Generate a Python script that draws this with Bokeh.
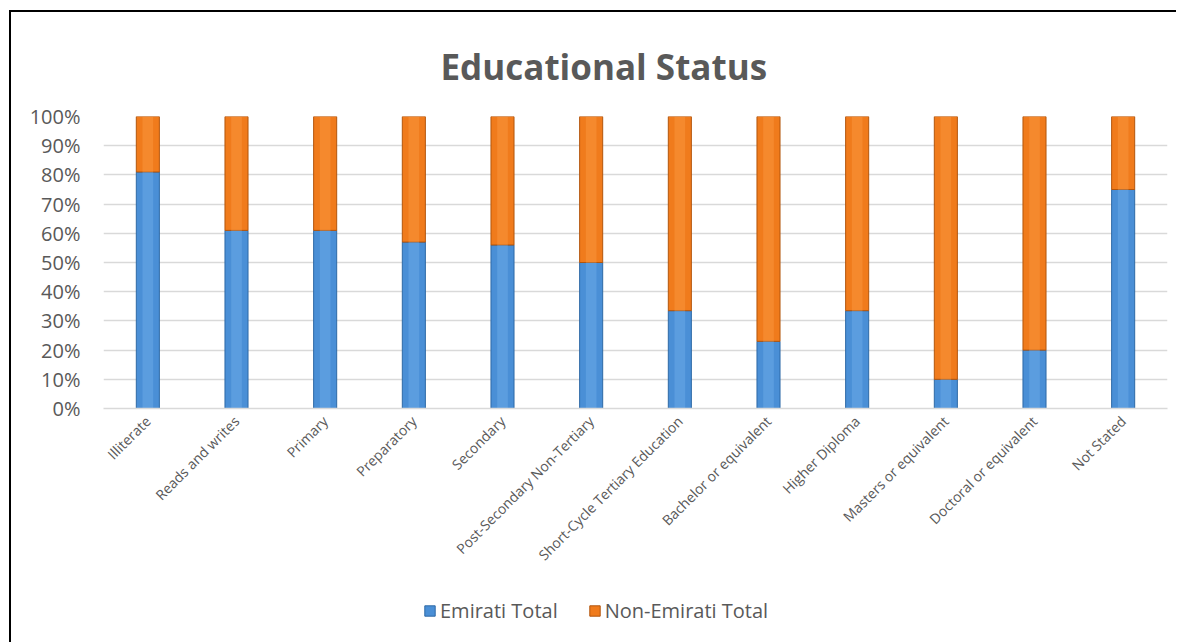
import math
from bokeh.plotting import figure
from bokeh.models import ColumnDataSource, Legend, LegendItem, NumeralTickFormatter, FixedTicker
from bokeh.embed import file_html
from bokeh.resources import INLINE

categories = ["Illiterate", "Reads and writes", "Primary", "Preparatory", "Secondary",
              "Post-Secondary Non-Tertiary", "Short-Cycle Tertiary Education",
              "Bachelor or equivalent", "Higher Diploma", "Masters or equivalent",
              "Doctoral or equivalent", "Not Stated"]
emirati_total = [0.81, 0.61, 0.61, 0.57, 0.56, 0.50, 0.335, 0.23, 0.335, 0.10, 0.20, 0.75]
non_emirati_total = [1 - v for v in emirati_total]
series_names = ["Emirati Total", "Non-Emirati Total"]
y_ticks = [0.0, 0.1, 0.2, 0.3, 0.4, 0.5, 0.6, 0.7, 0.8, 0.9, 1.0]

BLUE = "#4a8fd6"
BLUE_EDGE = "#2d69a6"
ORANGE = "#f07b1c"
ORANGE_EDGE = "#b3550c"
TEXT = "#595959"
FONT = "Open Sans"

source = ColumnDataSource(dict(cat=categories, emirati=emirati_total, non=non_emirati_total))

p = figure(x_range=categories, y_range=(0, 1), frame_width=1064, frame_height=292,
           output_backend="svg", toolbar_location=None,
           min_border_left=92, min_border_right=9, min_border_top=104, min_border_bottom=234)

renderers = p.vbar_stack(["emirati", "non"], x="cat", width=0.26, source=source,
                         fill_color=[BLUE, ORANGE], line_color=[BLUE_EDGE, ORANGE_EDGE],
                         line_width=1)
# soft highlight down the middle of each bar segment
p.vbar(x="cat", bottom=0, top="emirati", width=0.12, source=source,
       fill_color="#7ab8f0", fill_alpha=0.35, line_color=None)
p.vbar(x="cat", bottom="emirati", top=1, width=0.12, source=source,
       fill_color="#ffa24d", fill_alpha=0.35, line_color=None)

p.title.text = "Educational Status"
p.title.align = "left"
p.title.offset = 337
p.title.standoff = 54
p.title.text_font = FONT
p.title.text_font_style = "bold"
p.title.text_font_size = "35px"
p.title.text_color = TEXT

p.xaxis.major_label_orientation = math.pi / 4
p.xaxis.major_label_text_font = FONT
p.xaxis.major_label_text_font_size = "14px"
p.xaxis.major_label_text_color = TEXT
p.xaxis.major_label_standoff = 10
p.xaxis.axis_line_color = "#d9d9d9"
p.xaxis.axis_line_width = 1.5
p.xaxis.major_tick_line_color = None
p.xaxis.major_tick_out = 0
p.xaxis.minor_tick_line_color = None

p.yaxis.ticker = FixedTicker(ticks=y_ticks)
p.yaxis.formatter = NumeralTickFormatter(format="0%")
p.yaxis.major_label_text_font = FONT
p.yaxis.major_label_text_font_size = "20px"
p.yaxis.major_label_text_color = TEXT
p.yaxis.major_label_standoff = 23
p.yaxis.axis_line_color = None
p.yaxis.major_tick_line_color = None
p.yaxis.major_tick_out = 0
p.yaxis.minor_tick_line_color = None

p.xgrid.grid_line_color = None
p.ygrid.grid_line_color = "#d9d9d9"
p.ygrid.grid_line_width = 1.5
p.outline_line_color = None

p.styles = {"margin-left": "9px", "margin-top": "10px",
            "border-top": "2px solid black", "border-left": "2px solid black"}

# Legend drawn in its own small figure, placed under the chart.
# Its bars lie outside this figure's y range, so only the legend shows.
lf = figure(width=380, height=30, x_range=categories, y_range=(2, 3),
            x_axis_type=None, y_axis_type=None,
            output_backend="svg", toolbar_location=None, min_border=0)
lf.grid.visible = False
lf.outline_line_color = None
legend_renderers = lf.vbar_stack(["emirati", "non"], x="cat", width=0.26, source=source,
                                 fill_color=[BLUE, ORANGE], line_color=[BLUE_EDGE, ORANGE_EDGE],
                                 line_width=1)
legend = Legend(items=[LegendItem(label=series_names[0], renderers=[legend_renderers[0]]),
                       LegendItem(label=series_names[1], renderers=[legend_renderers[1]])],
                orientation="horizontal", location="top_left",
                label_text_font=FONT, label_text_font_size="20px", label_text_color=TEXT,
                label_standoff=4, glyph_width=13, glyph_height=13, spacing=30,
                padding=0, margin=0,
                border_line_alpha=0, background_fill_alpha=0)
lf.add_layout(legend)
lf.styles = {"position": "absolute", "left": "423px", "top": "597px"}

open("out.html", "w").write(file_html([p, lf], INLINE))
